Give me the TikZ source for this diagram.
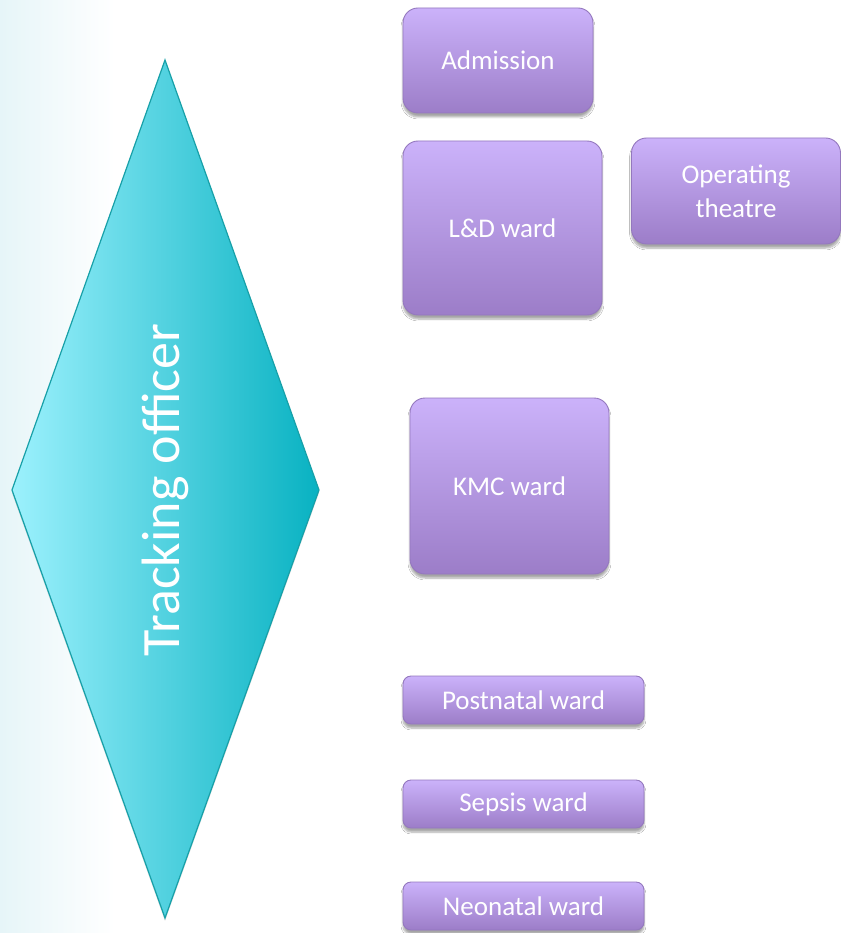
\documentclass[tikz,border=0pt]{standalone}
\usepackage{fontspec}
\setmainfont{Carlito}
\usetikzlibrary{shadows,shadows.blur}
\definecolor{bgc}{HTML}{E6F5F8}
\definecolor{dleft}{HTML}{9CF1FD}
\definecolor{dright}{HTML}{08B2C2}
\definecolor{dborder}{HTML}{17A0A8}
\definecolor{ptop}{HTML}{CBB2FA}
\definecolor{pbot}{HTML}{9C7DC8}
\definecolor{pborder}{HTML}{9478BE}
\tikzset{
  wardbox/.style={draw=pborder, line width=0.9pt, top color=ptop, bottom color=pbot,
    rounded corners=15pt, inner sep=0pt, align=center, text=white,
    font=\fontsize{27}{34}\selectfont,
    blur shadow={shadow xshift=0pt, shadow yshift=-4pt, shadow blur steps=6, shadow opacity=35}},
  smallbox/.style={wardbox, rounded corners=8pt},
}
\begin{document}
\begin{tikzpicture}[x=1pt,y=-1pt]
\useasboundingbox (0,0) rectangle (840,933);
\fill[white] (0,0) rectangle (840,933);
\fill[left color=bgc, right color=white] (0,0) rectangle (115,933);
% diamond
\coordinate (dt) at (165,60);
\coordinate (dr) at (319,490);
\coordinate (db) at (165,918);
\coordinate (dl) at (12,490);
\fill[black, opacity=0.12] ([yshift=-3pt]dt) -- ([yshift=-3pt]dr) -- ([yshift=-3pt]db) -- ([yshift=-3pt]dl) -- cycle;
\shade[left color=dleft, right color=dright] (dt) -- (dr) -- (db) -- (dl) -- cycle;
\draw[dborder, line width=1.2pt, line join=miter] (dt) -- (dr) -- (db) -- (dl) -- cycle;
\node[rotate=90, text=white, font=\fontsize{54}{60}\selectfont] (to) at (165,490) {Tracking officer};
% boxes
\node[wardbox, minimum width=190pt, minimum height=105pt] (adm) at (498,60.5) {Admission};
\node[wardbox, minimum width=199pt, minimum height=174pt] (ld) at (502.5,228) {L\&D ward};
\node[wardbox, minimum width=209pt, minimum height=106pt] (ot) at (736,191) {Operating\\theatre};
\node[wardbox, minimum width=199pt, minimum height=176pt] (kmc) at (509.5,486) {KMC ward};
\node[smallbox, minimum width=241pt, minimum height=48pt] (pn) at (523.5,700) {Postnatal ward};
\node[smallbox, minimum width=241pt, minimum height=48pt] (sp) at (523.5,804) {Sepsis ward};
\node[smallbox, minimum width=241pt, minimum height=48pt] (nn) at (523.5,906) {Neonatal ward};
\end{tikzpicture}
\end{document}
